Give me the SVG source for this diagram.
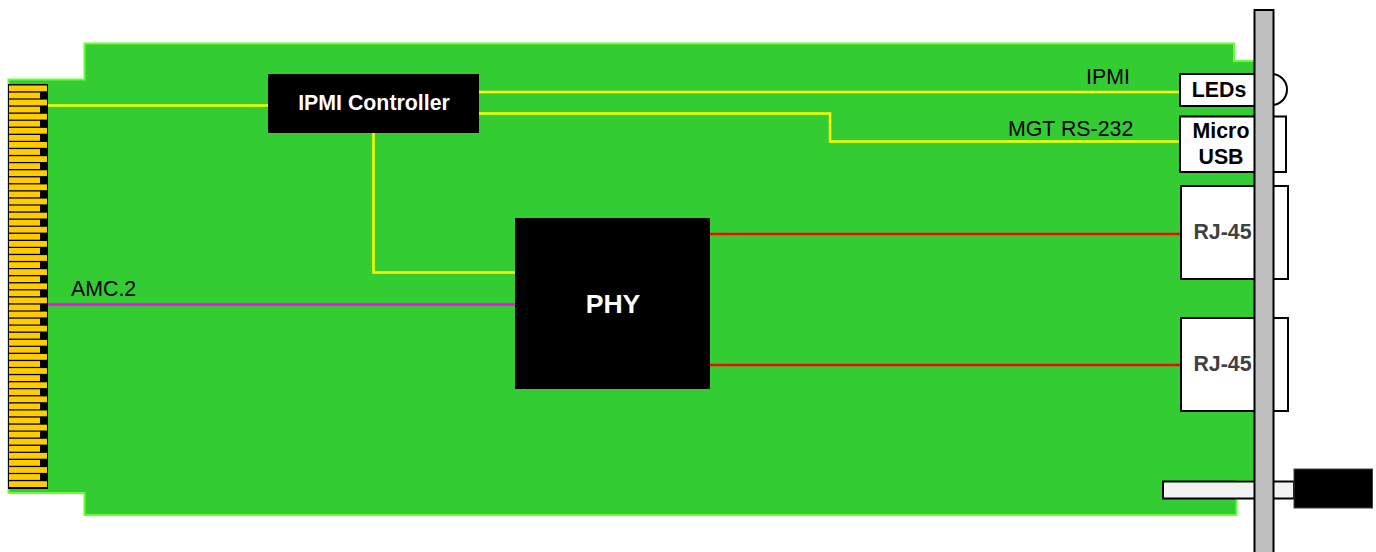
<svg xmlns="http://www.w3.org/2000/svg" width="1376" height="552" viewBox="0 0 1376 552">
<style>
text{font-family:"Liberation Sans",Arial,sans-serif;font-size:21.330px}
.b{font-weight:bold}
.w{fill:#fff;text-anchor:middle}
.k{fill:#000;text-anchor:middle}
.g{fill:#404040;text-anchor:middle}
.box{fill:#fff;stroke:#000;stroke-width:2}
.chip{fill:#000}
.line{fill:none;stroke-width:2.500}
.y{stroke:#ffff00}.r{stroke:#ff0000}.m{stroke:#ff00ff}
.l{fill:#ffcc00;x:9px;width:38px;height:5.800px}
.s{fill:#ffcc00;x:9px;width:31px;height:5.800px}
</style>
<g id="board"><path d="M84.500 43.500H1234V61H1256V481H1236.500V515H84.500V493H8.500V79.500H84.500Z" fill="#33cc33" stroke="#66ff33" stroke-width="2"/></g>
<g id="edge-connector">
<rect x="8" y="84" width="40" height="405" fill="#000"/>
<rect class="l" y="85.500"/><rect class="s" y="92.600"/><rect class="l" y="99.600"/><rect class="s" y="106.700"/><rect class="l" y="113.800"/><rect class="s" y="120.800"/><rect class="l" y="127.900"/><rect class="s" y="135"/><rect class="l" y="142"/><rect class="s" y="149.100"/><rect class="l" y="156.200"/><rect class="s" y="163.200"/><rect class="l" y="170.300"/><rect class="s" y="177.400"/><rect class="l" y="184.400"/><rect class="s" y="191.500"/><rect class="l" y="198.600"/><rect class="s" y="205.600"/><rect class="l" y="212.700"/><rect class="s" y="219.800"/><rect class="l" y="226.800"/><rect class="s" y="233.900"/><rect class="l" y="241"/><rect class="s" y="248"/><rect class="l" y="255.100"/><rect class="s" y="262.200"/><rect class="l" y="269.200"/><rect class="s" y="276.300"/><rect class="l" y="283.400"/><rect class="s" y="290.400"/><rect class="l" y="297.500"/><rect class="s" y="304.600"/><rect class="l" y="311.600"/><rect class="s" y="318.700"/><rect class="l" y="325.700"/><rect class="s" y="332.800"/><rect class="l" y="339.900"/><rect class="s" y="346.900"/><rect class="l" y="354"/><rect class="s" y="361.100"/><rect class="l" y="368.100"/><rect class="s" y="375.200"/><rect class="l" y="382.300"/><rect class="s" y="389.300"/><rect class="l" y="396.400"/><rect class="s" y="403.500"/><rect class="l" y="410.500"/><rect class="s" y="417.600"/><rect class="l" y="424.700"/><rect class="s" y="431.700"/><rect class="l" y="438.800"/><rect class="s" y="445.900"/><rect class="l" y="452.900"/><rect class="s" y="460"/><rect class="l" y="467.100"/><rect class="s" y="474.100"/><rect class="l" y="481.200"/>
</g>
<g id="connectors">
<path class="line y" d="M48 105.500H268"/>
<path class="line y" d="M373.500 133V272.500H515"/>
<path class="line y" d="M479 92H1180"/>
<path class="line y" d="M479 113.500H830V141.500H1179"/>
<path class="line m" d="M48 304.500H515"/>
<path class="line r" d="M710 234H1181"/>
<path class="line r" d="M710 365H1181"/>
</g>
<text x="1086" y="84">IPMI</text>
<text x="1008" y="136">MGT RS-232</text>
<text x="71" y="296">AMC.2</text>
<g id="ipmi-controller"><rect class="chip" x="268" y="74" width="211" height="59"/><text class="b w" x="374" y="110">IPMI Controller</text></g>
<g id="phy"><rect class="chip" x="515" y="218" width="195" height="171"/><text class="b w" x="613" y="313" style="font-size:26.600px">PHY</text></g>
<g id="leds"><circle class="box" cx="1271.500" cy="89.500" r="15.500"/><rect class="box" x="1180" y="74" width="80" height="32"/><text class="b k" x="1219" y="97">LEDs</text></g>
<g id="micro-usb"><rect class="box" x="1180" y="116.500" width="106" height="55.500"/><text class="b k" x="1221" y="138">Micro</text><text class="b k" x="1221" y="164">USB</text></g>
<g id="rj45-1"><rect class="box" x="1181" y="186" width="107" height="93"/><text class="b g" x="1222.500" y="239">RJ-45</text></g>
<g id="rj45-2"><rect class="box" x="1181" y="318" width="107" height="93"/><text class="b g" x="1222.500" y="371">RJ-45</text></g>
<g id="handle"><rect x="1163" y="481.500" width="131" height="17" fill="#f2f2f2" stroke="#000" stroke-width="2"/><rect x="1294" y="469" width="78.500" height="39" fill="#000" stroke="#404040" stroke-width="1"/></g>
<g id="panel"><rect x="1254.500" y="10" width="19" height="544" fill="#bfbfbf" stroke="#000" stroke-width="2"/></g>
</svg>
